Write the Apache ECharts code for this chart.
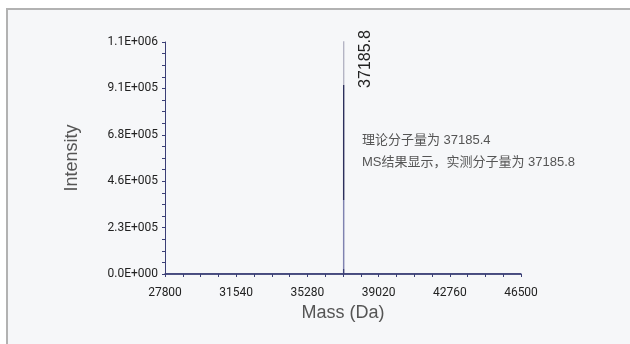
<!DOCTYPE html>
<html>
<head>
<meta charset="utf-8">
<script src="https://cdn.jsdelivr.net/npm/echarts@6/dist/echarts.min.js"></script>
<style>
  html, body { margin: 0; padding: 0; background: #fff; }
  #wrap { position: relative; width: 630px; height: 344px; overflow: hidden; }
  #panel {
    position: absolute; left: 6px; top: 8px; width: 700px; height: 400px;
    border: 2px solid #b2b2b2; background: #f6f7f9;
  }
  #chart { position: absolute; left: 0; top: 0; width: 630px; height: 344px; }
</style>
</head>
<body>
<div id="wrap">
  <div id="panel"></div>
  <div id="chart"></div>
</div>
<script>
// 质谱数据 (Mass, Intensity)
const massRange = [27800, 46500];
const massStep = 3740;
const intensityStep = 228000;
const intensityMax = 1140000;

const spectrumMass = [27800, 37183.5, 37185.8, 37188.0, 46500];
const spectrumIntensity = [0, 0, 1150000, 0, 0];

const peakMass = 37185.8;
const peakHeight = 1150000;
const peakLabel = "37185.8";

const noteLines = [
  "理论分子量为 37185.4",
  "MS结果显示，实测分子量为 37185.8"
];

// x 轴从 0 开始计数，刻度才能落在 27800 上
const base = massRange[0];

// 1.1E+006 这种格式
function sci(v) {
  if (v === 0) return "0.0E+000";
  const parts = v.toExponential(1).split("e");
  const n = parseInt(parts[1], 10);
  return parts[0] + "E" + (n < 0 ? "-" : "+") + String(Math.abs(n)).padStart(3, "0");
}

const axisColor = "#3b3f76";
const tickFont = "'Liberation Sans Narrow', 'Roboto', sans-serif";

const chart = echarts.init(document.getElementById("chart"), null, { renderer: "canvas" });

const option = {
  backgroundColor: "transparent",
  animation: false,
  grid: { left: 165, right: 109, top: 42, bottom: 70 },
  xAxis: {
    type: "value",
    min: 0,
    max: massRange[1] - base,
    interval: massStep,
    name: "Mass (Da)",
    nameLocation: "middle",
    nameGap: 30,
    nameTextStyle: { fontSize: 18, color: "#555", fontFamily: "'Liberation Sans', sans-serif" },
    axisLine: { lineStyle: { color: axisColor, width: 1.5 } },
    axisTick: { length: 3, lineStyle: { color: axisColor } },
    minorTick: { show: true, splitNumber: 4, length: 3, lineStyle: { color: axisColor } },
    splitLine: { show: false },
    axisLabel: {
      color: "#222", fontSize: 12, fontFamily: tickFont, margin: 13,
      formatter: function (v) { return String(Math.round(v + base)); }
    }
  },
  yAxis: {
    type: "value",
    min: 0,
    max: intensityMax,
    interval: intensityStep,
    name: "Intensity",
    nameLocation: "middle",
    nameGap: 84,
    nameRotate: 90,
    nameTextStyle: { fontSize: 18, color: "#555", fontFamily: "'Liberation Sans', sans-serif" },
    axisLine: { show: true, lineStyle: { color: axisColor, width: 1 } },
    axisTick: { show: true, length: 3, lineStyle: { color: axisColor } },
    minorTick: { show: true, splitNumber: 4, length: 3, lineStyle: { color: axisColor } },
    splitLine: { show: false },
    axisLabel: {
      color: "#222", fontSize: 12, fontFamily: tickFont, margin: 7,
      formatter: sci
    }
  },
  series: [{
    type: "line",
    showSymbol: false,
    data: spectrumMass.map(function (m, i) { return [m - base, spectrumIntensity[i]]; }),
    lineStyle: {
      width: 1.4,
      color: new echarts.graphic.LinearGradient(0, 0, 0, 1, [
        { offset: 0, color: "#b4b4c4" },
        { offset: 0.2, color: "#b4b4c4" },
        { offset: 0.2, color: "#2c2f5c" },
        { offset: 0.68, color: "#2c2f5c" },
        { offset: 0.68, color: "#7f82b0" },
        { offset: 0.97, color: "#7f82b0" },
        { offset: 0.97, color: axisColor },
        { offset: 1, color: axisColor }
      ])
    },
    z: 3
  }]
};

chart.setOption(option);

// 峰值标注：位置由坐标系换算
const p = chart.convertToPixel({ gridIndex: 0 }, [peakMass - base, peakHeight]);
chart.setOption({
  graphic: [
    {
      type: "text",
      x: p[0] + 22,
      y: p[1] + 19,
      rotation: Math.PI / 2,
      style: {
        text: peakLabel,
        fill: "#222",
        font: "16px 'Liberation Sans', sans-serif",
        align: "center",
        verticalAlign: "middle"
      }
    },
    {
      type: "text",
      left: 362,
      top: 129,
      style: {
        text: noteLines.join("\n"),
        fill: "#555",
        font: "13px 'Liberation Sans', 'Noto Sans CJK SC', sans-serif",
        lineHeight: 22
      }
    }
  ]
});
</script>
</body>
</html>
